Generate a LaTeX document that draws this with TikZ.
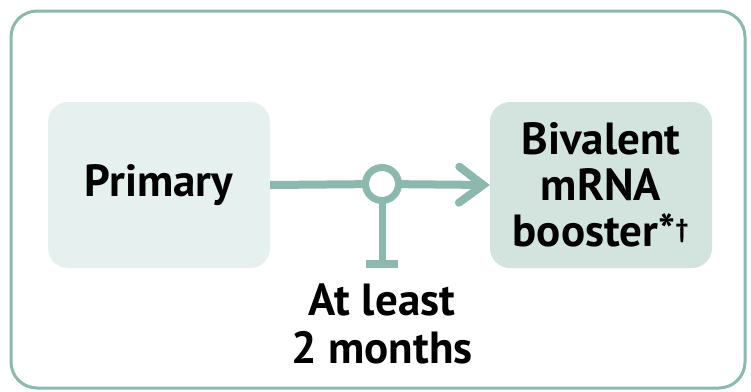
\documentclass[tikz,border=0pt]{standalone}
\usepackage{fontspec}
\setmainfont{PT Sans}
\usetikzlibrary{arrows.meta}
\definecolor{teal1}{HTML}{8DB8AD}
\definecolor{fillA}{HTML}{E6F0EE}
\definecolor{fillB}{HTML}{D3E4DF}
\tikzset{
  box/.style={rounded corners=20pt, minimum width=222pt, minimum height=166pt, inner sep=0pt, align=center, font=\fontsize{45}{46}\selectfont\bfseries},
  conn/.style={draw=teal1, line width=8pt},
  lbl/.style={align=center, font=\fontsize{45}{48}\selectfont\bfseries}
}
\begin{document}
\begin{tikzpicture}[x=1pt,y=-1pt]
\useasboundingbox (0,0) rectangle (751,391);
\fill[white] (0,0) rectangle (751,391);
\draw[teal1, line width=3pt, rounded corners=26pt] (11,11) rectangle (745,388);
\node[box, fill=fillA] (prim) at (159,185) {Primary};
\node[box, fill=fillB] (biv) at (601,185) {Bivalent\\mRNA\\booster*\textsuperscript{\fontsize{26}{26}\selectfont†}};
\coordinate (c) at (382,184);
\coordinate (tee) at (382,264);
\draw[conn] (prim.east) -- (c);
\draw[conn, -{Straight Barb[length=24pt,width=36pt,line cap=round]}] (c) -- (biv.west);
\draw[teal1, line width=7pt] (c) -- (tee);
\draw[teal1, line width=8pt] ([xshift=-16pt]tee) -- ([xshift=16pt]tee);
\node[circle, draw=teal1, fill=white, line width=7pt, minimum size=33pt, inner sep=0pt] (ring) at (c) {};
\node[lbl, anchor=north] (wait) at (382,280) {At least\\2 months};
\end{tikzpicture}
\end{document}
